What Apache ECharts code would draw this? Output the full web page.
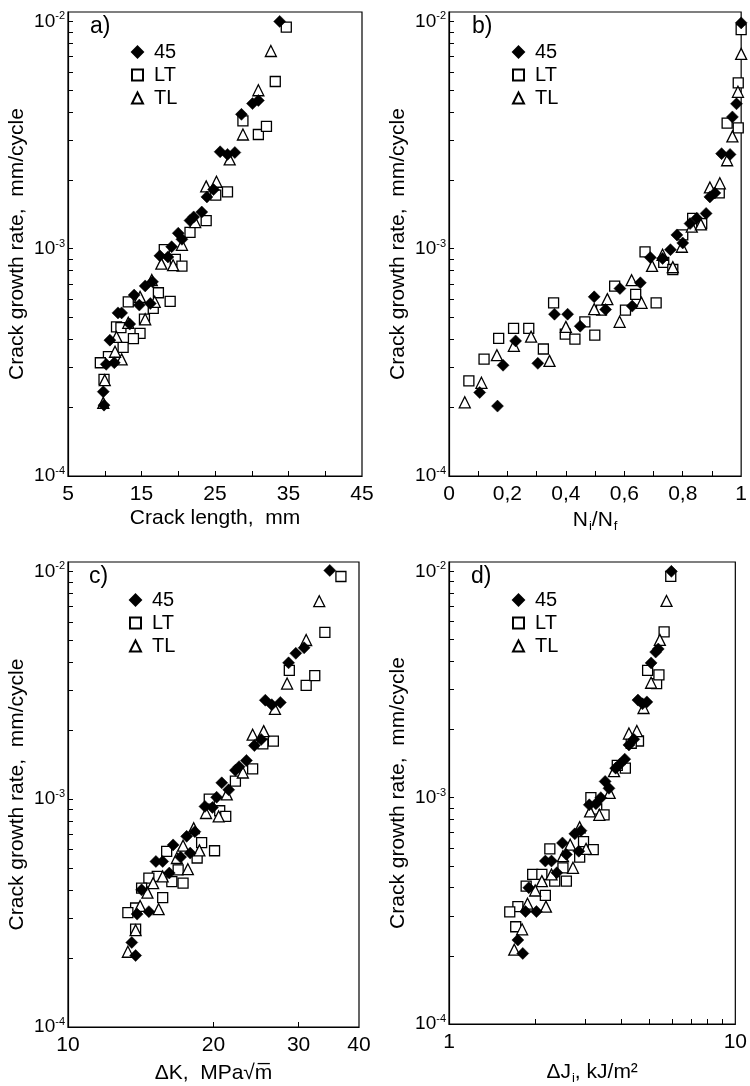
<!DOCTYPE html>
<html><head><meta charset="utf-8">
<script src="https://cdn.jsdelivr.net/npm/echarts@6/dist/echarts.min.js"></script>
<style>html,body{margin:0;padding:0;background:#fff}#c{width:750px;height:1086px}</style>
</head><body><div id="c"></div>
<script>
const seriesNames = ['45', 'LT', 'TL'];
const panelLetters = ['a)', 'b)', 'c)', 'd)'];

// Panel a: crack length (mm) vs crack growth rate (mm/cycle)
const a45 = [[33.8,0.0100],[28.6,0.0039],[30.1,0.00435],[30.9,0.00449],[25.7,0.00267],[26.7,0.0026],[27.7,0.00265],[23.9,0.00169],[24.8,0.00182],[23.2,0.00145],[21.6,0.00133],[22.1,0.00138],[20.0,0.00117],[20.5,0.0011],[19.1,0.00102],[17.5,0.00093],[18.6,0.00092],[16.5,0.000715],[15.5,0.000686],[14.0,0.000625],[16.2,0.000574],[14.7,0.000565],[12.3,0.000522],[11.8,0.000522],[13.4,0.000466],[10.7,0.000396],[10.2,0.00031],[11.3,0.000315],[9.8,0.000235],[9.9,0.000205]];
const aLT = [[34.7,0.00944],[33.2,0.00544],[28.8,0.00365],[30.9,0.00318],[32.0,0.00345],[26.7,0.00178],[25.1,0.00172],[23.8,0.00133],[21.6,0.00118],[18.1,0.00099],[19.6,0.000897],[20.5,0.000838],[17.3,0.00064],[18.9,0.000587],[13.2,0.000584],[16.6,0.000546],[15.4,0.00049],[11.6,0.000453],[12.2,0.00045],[14.8,0.000424],[13.9,0.000402],[12.5,0.000368],[10.5,0.000335],[9.4,0.000315],[9.9,0.000266]];
const aTL = [[32.6,0.00741],[30.9,0.00498],[28.8,0.00318],[27.0,0.00247],[23.8,0.00188],[25.2,0.00197],[22.3,0.00131],[20.5,0.00104],[17.7,0.00086],[19.3,0.000846],[16.4,0.000728],[14.8,0.000614],[16.8,0.000584],[15.5,0.000489],[13.2,0.000472],[11.6,0.000409],[12.3,0.000326],[11.4,0.000352],[10.0,0.000264],[9.8,0.00021]];

// Panel b: Ni/Nf
const b45 = [[0.105,0.000233],[0.166,0.000203],[0.185,0.000307],[0.228,0.000393],[0.304,0.000313],[0.361,0.000515],[0.406,0.000515],[0.449,0.000456],[0.497,0.000614],[0.536,0.00054],[0.585,0.000668],[0.627,0.000559],[0.655,0.000708],[0.689,0.000915],[0.731,0.000906],[0.758,0.00099],[0.780,0.00115],[0.800,0.00106],[0.825,0.00129],[0.848,0.00136],[0.880,0.00143],[0.893,0.00169],[0.910,0.00176],[0.933,0.00262],[0.962,0.0026],[0.970,0.0038],[0.984,0.00434],[1.0,0.00985]];
const bLT = [[0.068,0.000262],[0.120,0.000327],[0.170,0.000403],[0.221,0.000446],[0.273,0.000446],[0.323,0.000362],[0.358,0.000578],[0.398,0.000421],[0.431,0.0004],[0.465,0.000477],[0.499,0.000417],[0.522,0.000537],[0.567,0.000684],[0.604,0.000537],[0.639,0.000629],[0.709,0.000578],[0.671,0.000968],[0.735,0.00087],[0.766,0.00081],[0.800,0.00115],[0.834,0.00136],[0.865,0.00129],[0.925,0.00176],[0.952,0.00357],[0.990,0.0034],[0.990,0.00536],[1.0,0.0092]];
const bTL = [[0.054,0.000211],[0.111,0.000257],[0.164,0.00034],[0.222,0.000374],[0.281,0.00041],[0.344,0.000321],[0.400,0.000453],[0.497,0.000542],[0.542,0.0006],[0.584,0.000477],[0.625,0.000727],[0.659,0.000578],[0.695,0.00084],[0.731,0.00094],[0.766,0.00083],[0.797,0.00102],[0.831,0.00125],[0.862,0.00128],[0.893,0.00186],[0.927,0.00194],[0.952,0.00245],[0.970,0.00312],[0.989,0.0049],[1.0,0.0072]];

// Panel c: delta K
const c45 = [[34.8,0.0101],[28.6,0.00397],[29.6,0.00437],[30.8,0.00462],[25.6,0.00272],[26.4,0.0026],[27.5,0.00266],[24.3,0.00172],[25.1,0.00183],[23.4,0.00148],[22.2,0.00134],[22.6,0.00139],[20.8,0.00118],[21.5,0.0011],[20.3,0.00102],[19.2,0.00093],[19.9,0.00092],[18.3,0.00072],[17.6,0.000687],[16.5,0.00063],[17.9,0.00058],[17.1,0.000557],[15.2,0.000533],[15.7,0.000533],[16.2,0.000474],[14.2,0.0004],[13.9,0.000313],[14.7,0.000321],[13.55,0.000235],[13.8,0.000206]];
const cLT = [[36.7,0.0095],[34.0,0.0054],[28.7,0.00368],[31.1,0.00316],[32.4,0.00349],[26.6,0.0018],[25.3,0.00175],[24.1,0.00136],[22.2,0.0012],[19.6,0.001],[20.6,0.00089],[21.2,0.00084],[18.9,0.000645],[20.1,0.000594],[16.0,0.00059],[18.5,0.000552],[16.9,0.00049],[15.3,0.000458],[14.7,0.00045],[16.4,0.000435],[17.3,0.000428],[14.2,0.000407],[15.7,0.00037],[13.8,0.000333],[13.3,0.000318],[13.8,0.000269]];
const cTL = [[33.1,0.0074],[31.1,0.005],[28.4,0.00322],[26.8,0.00249],[24.1,0.00192],[25.4,0.00199],[23.0,0.00131],[21.3,0.00105],[19.3,0.00087],[20.5,0.00084],[18.2,0.000746],[17.3,0.000625],[18.7,0.000596],[16.8,0.000552],[17.7,0.000493],[15.7,0.000458],[15.0,0.000428],[14.6,0.000389],[14.1,0.00034],[15.4,0.000329],[13.8,0.000266],[13.3,0.000214]];

// Panel d: delta J
const d45 = [[5.98,0.01],[5.08,0.00394],[5.27,0.0044],[5.38,0.00454],[4.57,0.0027],[4.74,0.0026],[4.91,0.00265],[4.25,0.00171],[4.42,0.00181],[4.11,0.00148],[3.82,0.00135],[3.94,0.0014],[3.51,0.00118],[3.62,0.0011],[3.39,0.001],[3.09,0.00093],[3.26,0.00094],[2.89,0.000715],[2.75,0.000692],[2.49,0.000631],[2.84,0.00058],[2.57,0.000561],[2.17,0.000525],[2.28,0.000525],[2.38,0.000466],[1.90,0.0004],[1.85,0.000314],[2.02,0.000314],[1.74,0.000235],[1.81,0.000205]];
const dLT = [[5.95,0.0095],[5.64,0.0054],[4.94,0.00365],[5.31,0.00319],[5.41,0.00349],[4.59,0.00178],[4.33,0.00174],[4.13,0.00135],[3.87,0.00139],[3.13,0.001],[3.28,0.00089],[3.48,0.00084],[2.95,0.00064],[3.19,0.00059],[2.25,0.000594],[2.86,0.000546],[1.96,0.000458],[2.11,0.000458],[2.50,0.00049],[2.34,0.000428],[2.57,0.000428],[1.86,0.000407],[2.17,0.00037],[1.74,0.00033],[1.63,0.000313],[1.71,0.000269]];
const dTL = [[5.75,0.0074],[5.45,0.00498],[5.08,0.00322],[4.78,0.00249],[4.25,0.00192],[4.53,0.00197],[3.77,0.00131],[3.64,0.00105],[3.11,0.00087],[3.35,0.00084],[2.86,0.00074],[2.65,0.00062],[3.01,0.000594],[2.50,0.000552],[2.71,0.00049],[2.28,0.000458],[2.11,0.000428],[2.00,0.000389],[1.88,0.00034],[2.18,0.00033],[1.80,0.000262],[1.69,0.000213]];

// Axis ticks and labels
const aTicks = [10, 15, 20, 25, 30, 35, 40];
const aLabels = [5, 15, 25, 35, 45];
const bTicks = [0.1, 0.2, 0.3, 0.4, 0.5, 0.6, 0.7, 0.8, 0.9];
const bLabels = [0, 0.2, 0.4, 0.6, 0.8, 1];
const cTicks = [20, 30];
const cLabels = [10, 20, 30, 40];
const dTicks = [2, 3, 4, 5, 6, 7, 8, 9];
const dLabels = [1, 10];
const yTicks = [0.0002,0.0003,0.0004,0.0005,0.0006,0.0007,0.0008,0.0009,0.001,0.002,0.003,0.004,0.005,0.006,0.007,0.008,0.009,0.01];
const yLabels = [0.0001, 0.001, 0.01];

const FONT = '"Liberation Sans", Arial, sans-serif';
const BLACK = '#000';

const chart = echarts.init(document.getElementById('c'), null, {renderer: 'canvas'});

const grids = [
  {left: 68, top: 12, width: 294, height: 464},
  {left: 449, top: 12, width: 294, height: 464},
  {left: 68, top: 562, width: 291, height: 465},
  {left: 449, top: 562, width: 291, height: 465}
].map(g => Object.assign({show: true, borderColor: BLACK, borderWidth: 1.2, backgroundColor: 'transparent'}, g));

function xAxisDef(gi, type, min, max, ticks, labels, name, gap, fmt) {
  return {
    gridIndex: gi, type: type, min: min, max: max,
    axisLine: {show: true, lineStyle: {color: BLACK, width: 1.2}},
    splitLine: {show: false},
    axisTick: {show: true, inside: true, length: 5, customValues: ticks, lineStyle: {color: BLACK, width: 1}},
    axisLabel: {color: BLACK, fontSize: 21, fontFamily: FONT, margin: 8, customValues: labels, formatter: fmt},
    name: name, nameLocation: 'middle', nameGap: 32,
    nameTextStyle: {color: BLACK, fontSize: 21, fontFamily: FONT,
      rich: {
        n: {fontSize: 21, fontFamily: FONT, color: BLACK},
        i: {fontSize: 13, fontFamily: FONT, color: BLACK, verticalAlign: 'bottom', padding: [12, 0, 0, 1]}
      }}
  };
}

function yAxisDef(gi) {
  return {
    gridIndex: gi, type: 'log', logBase: 10, min: 0.0001, max: 0.011,
    axisLine: {show: true, lineStyle: {color: BLACK, width: 1.2}},
    splitLine: {show: false},
    minorTick: {show: false},
    axisTick: {show: true, inside: true, length: 5, customValues: yTicks, lineStyle: {color: BLACK, width: 1}},
    axisLabel: {
      color: BLACK, margin: 3, customValues: yLabels,
      formatter: v => '{b|10}{s|' + Math.round(Math.log10(v)) + '}',
      rich: {
        b: {fontSize: 19, fontFamily: FONT, color: BLACK},
        s: {fontSize: 11, fontFamily: FONT, color: BLACK, verticalAlign: 'top', padding: [0, 0, 10, 0]}
      }
    },
    name: 'Crack growth rate,  mm/cycle', nameLocation: 'middle', nameGap: 40,
    nameTextStyle: {color: BLACK, fontSize: 21, fontFamily: FONT}
  };
}

const xAxes = [
  xAxisDef(0, 'value', 5, 45, aTicks, aLabels, 'Crack length,  mm', 32, v => String(v)),
  xAxisDef(1, 'value', 0, 1, bTicks, bLabels, '{n|N}{i|i}{n|/N}{i|f}', 32, v => String(Math.round(v * 10) / 10).replace('.', ',')),
  xAxisDef(2, 'log', 10, 40, cTicks, cLabels, 'ΔK,  MPa√m̅', 36, v => String(Math.round(v))),
  xAxisDef(3, 'log', 1, 10, dTicks, dLabels, '{n|ΔJ}{i|i}{n|, kJ/m²}', 36, v => String(Math.round(v)))
];
xAxes[2].logBase = 10; xAxes[3].logBase = 10;
xAxes[2].nameGap = 36; xAxes[3].nameGap = 36;

const yAxes = [0, 1, 2, 3].map(yAxisDef);

const panelData = [[a45, aLT, aTL], [b45, bLT, bTL], [c45, cLT, cTL], [d45, dLT, dTL]];
const symbolDefs = {
  '45': {symbol: 'diamond', size: 12, itemStyle: {color: BLACK, borderColor: BLACK, borderWidth: 0.5, opacity: 1}},
  'LT': {symbol: 'rect', size: 10, itemStyle: {color: '#fff', borderColor: BLACK, borderWidth: 1.3, opacity: 1}},
  'TL': {symbol: 'triangle', size: 11, itemStyle: {color: '#fff', borderColor: BLACK, borderWidth: 1.3, opacity: 1}}
};
const drawOrder = [1, 2, 0];
const series = [];
panelData.forEach((sets, gi) => {
  drawOrder.forEach(k => {
    const name = seriesNames[k];
    const s = symbolDefs[name];
    series.push({
      type: 'scatter', name: name, xAxisIndex: gi, yAxisIndex: gi,
      data: sets[k], symbol: s.symbol, symbolSize: s.size,
      itemStyle: s.itemStyle, emphasis: {disabled: true}, z: k === 0 ? 3 : 2
    });
  });
});

const legendPos = [[131, 41], [512, 41], [129, 589], [512, 589]];
const legends = legendPos.map(p => ({
  left: p[0], top: p[1], orient: 'vertical', itemWidth: 11, itemHeight: 11, itemGap: 1,
  padding: 0, data: seriesNames, selectedMode: false,
  itemStyle: {opacity: 1},
  textStyle: {color: BLACK, fontSize: 20, fontFamily: FONT, lineHeight: 22, padding: [0, 0, 0, 6]}
}));

const titlePos = [[90, 15], [472, 15], [89, 565], [471, 565]];
const titles = titlePos.map((p, i) => ({
  text: panelLetters[i], left: p[0], top: p[1], padding: 0,
  textStyle: {color: BLACK, fontSize: 23, fontWeight: 'normal', fontFamily: FONT}
}));

chart.setOption({
  animation: false,
  backgroundColor: '#fff',
  title: titles,
  legend: legends,
  grid: grids,
  xAxis: xAxes,
  yAxis: yAxes,
  series: series
});
</script></body></html>
